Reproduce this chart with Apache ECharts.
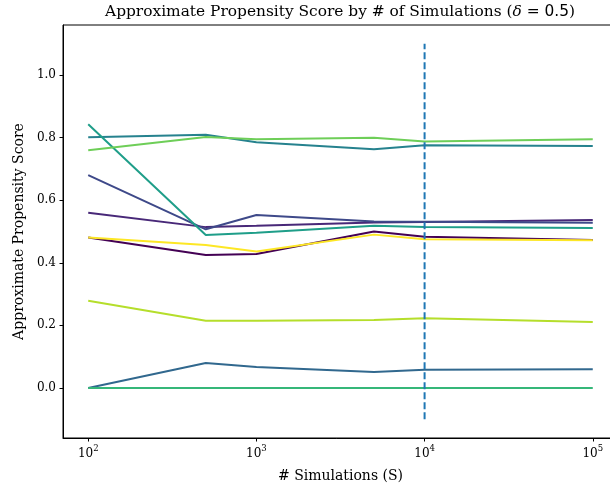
<!DOCTYPE html>
<html>
<head>
<meta charset="utf-8">
<script src="https://cdn.jsdelivr.net/npm/echarts@6/dist/echarts.min.js"></script>
<style>html,body{margin:0;padding:0;background:#fff}#c{width:610px;height:489px}</style>
</head>
<body>
<div id="c"></div>
<script>
const simulations = [100, 500, 1000, 5000, 10000, 100000];
const s0 = [0.481, 0.425, 0.428, 0.500, 0.483, 0.473];
const s1 = [0.560, 0.514, 0.518, 0.529, 0.530, 0.537];
const s2 = [0.680, 0.507, 0.553, 0.532, 0.531, 0.528];
const s3 = [0.000, 0.080, 0.067, 0.051, 0.058, 0.060];
const s4 = [0.801, 0.809, 0.785, 0.763, 0.776, 0.773];
const s5 = [0.843, 0.489, 0.496, 0.518, 0.514, 0.511];
const s6 = [0.000, 0.000, 0.000, 0.000, 0.000, 0.000];
const s7 = [0.760, 0.802, 0.795, 0.800, 0.788, 0.795];
const s8 = [0.279, 0.215, 0.215, 0.217, 0.223, 0.211];
const s9 = [0.481, 0.457, 0.436, 0.490, 0.475, 0.472];
const seriesValues = [s0, s1, s2, s3, s4, s5, s6, s7, s8, s9];
const colors = ['#440154', '#482878', '#3e4989', '#31688e', '#26828e', '#1f9e89', '#35b779', '#6ece58', '#b5de2b', '#fde725'];
const vlineX = 10000;
const vlineY = [-0.1, 1.1];
const yTicks = [0, 0.2, 0.4, 0.6, 0.8, 1.0];

const FONT = 'DejaVu Serif';
const series = seriesValues.map((vals, i) => ({
  type: 'line',
  data: simulations.map((x, j) => [x, vals[j]]),
  showSymbol: false,
  lineStyle: { color: colors[i], width: 2 },
  itemStyle: { color: colors[i] },
  silent: true,
  animation: false
}));
series.push({
  type: 'line',
  data: vlineY.map(y => [vlineX, y]),
  showSymbol: false,
  lineStyle: { color: '#1f77b4', width: 2, type: [7, 3] },
  silent: true,
  animation: false
});

const chart = echarts.init(document.getElementById('c'));
chart.setOption({
  backgroundColor: '#fff',
  animation: false,
  grid: { left: 63, top: 25, width: 555, bottom: 51, outerBoundsMode: 'none', containLabel: false, show: true, borderColor: '#000', borderWidth: 1, backgroundColor: 'transparent' },
  graphic: [{
    type: 'text', x: 340, y: 11.5,
    style: {
      text: '{a|Approximate Propensity Score by # of Simulations (}{i|δ}{m| = 0.5}{a|)}',
      textAlign: 'center', textVerticalAlign: 'middle',
      rich: {
        a: { fontFamily: FONT, fontSize: 15.4, fill: '#000' },
        i: { fontFamily: FONT, fontSize: 15.4, fontStyle: 'italic', fill: '#000' },
        m: { fontFamily: 'DejaVu Sans', fontSize: 15.4, fill: '#000' }
      }
    }
  }],
  xAxis: {
    type: 'log', logBase: 10, min: 70.8, max: 141254,
    name: '# Simulations (S)', nameLocation: 'middle', nameGap: 31,
    nameTextStyle: { fontFamily: FONT, fontSize: 14, color: '#000' },
    axisLine: { show: true, onZero: false, lineStyle: { color: '#000', width: 1 } },
    axisTick: { show: true, length: 3.5, lineStyle: { color: '#000', width: 1 } },
    splitLine: { show: false },
    minorTick: { show: false },
    axisLabel: {
      margin: 6, showMinLabel: false, showMaxLabel: false,
      formatter: v => {
        const e = Math.round(Math.log10(v));
        if (Math.abs(Math.pow(10, e) - v) > 1e-6 * v) return '';
        return '{b|10}{s|' + e + '}';
      },
      rich: {
        b: { fontFamily: FONT, fontSize: 12, color: '#000', lineHeight: 16, verticalAlign: 'bottom' },
        s: { fontFamily: FONT, fontSize: 8.5, color: '#000', lineHeight: 16, verticalAlign: 'top' }
      }
    }
  },
  yAxis: {
    type: 'value', min: -0.16, max: 1.16,
    name: 'Approximate Propensity Score', nameLocation: 'middle', nameGap: 37, nameRotate: 90,
    nameTextStyle: { fontFamily: FONT, fontSize: 14, color: '#000' },
    axisLine: { show: true, lineStyle: { color: '#000', width: 1 } },
    axisTick: { show: true, length: 3.5, customValues: yTicks, lineStyle: { color: '#000', width: 1 } },
    splitLine: { show: false },
    axisLabel: {
      margin: 7, customValues: yTicks,
      fontFamily: FONT, fontSize: 12, color: '#000',
      formatter: v => v.toFixed(1)
    }
  },
  series: series
});
</script>
</body>
</html>
